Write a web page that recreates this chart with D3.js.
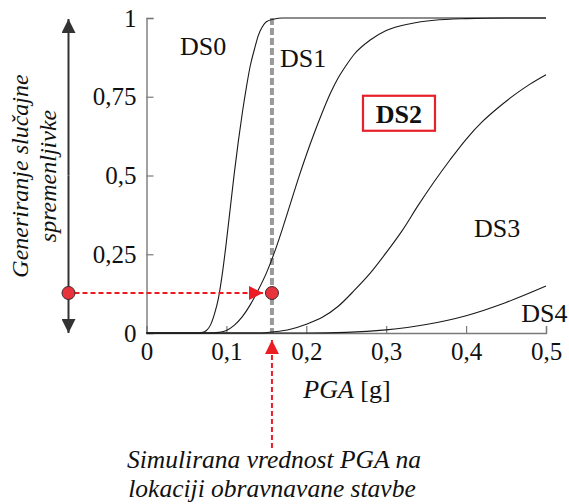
<!DOCTYPE html>
<html>
<head>
<meta charset="utf-8">
<script src="https://cdn.jsdelivr.net/npm/d3@7"></script>
<style>
  body { margin: 0; background: #fff; }
  svg { display: block; font-family: "Liberation Serif", "Times New Roman", serif; }
</style>
</head>
<body>
<div class="container"></div>
<script>
(function(){

    // fragility curves: [PGA, probability]
    var curveDS1 = [[0,0],[0.065,0],[0.07,0.002],[0.075,0.008],[0.08,0.025],[0.085,0.06],
        [0.09,0.11],[0.095,0.19],[0.1,0.29],[0.105,0.40],[0.11,0.51],[0.115,0.61],[0.12,0.70],
        [0.125,0.78],[0.13,0.85],[0.135,0.90],[0.14,0.945],[0.145,0.972],[0.15,0.988],
        [0.16,0.997],[0.17,1],[0.5,1]];
    var curveDS2 = [[0,0],[0.08,0],[0.09,0.002],[0.1,0.008],[0.11,0.025],[0.12,0.052],
        [0.13,0.09],[0.14,0.137],[0.15,0.19],[0.16,0.255],[0.17,0.33],[0.18,0.41],[0.19,0.49],
        [0.2,0.565],[0.21,0.635],[0.22,0.70],[0.23,0.76],[0.24,0.81],[0.25,0.85],[0.26,0.885],
        [0.28,0.93],[0.3,0.96],[0.33,0.982],[0.36,0.993],[0.4,0.998],[0.45,1],[0.5,1]];
    var curveDS3 = [[0,0],[0.14,0],[0.16,0.004],[0.18,0.012],[0.2,0.028],[0.22,0.05],
        [0.24,0.085],[0.26,0.135],[0.28,0.19],[0.3,0.255],[0.32,0.325],[0.34,0.405],
        [0.36,0.48],[0.38,0.55],[0.4,0.615],[0.42,0.67],[0.44,0.715],[0.46,0.755],
        [0.48,0.79],[0.5,0.82]];
    var curveDS4 = [[0,0],[0.2,0],[0.25,0.002],[0.3,0.01],[0.35,0.027],[0.4,0.055],
        [0.45,0.097],[0.5,0.149]];

    var curves = [curveDS1, curveDS2, curveDS3, curveDS4];

    var xTicks = [0, 0.1, 0.2, 0.3, 0.4, 0.5];
    var yTicks = [0, 0.25, 0.5, 0.75, 1];

    // labels of the damage-state regions: [text, PGA, probability]
    var dsLabels = [["DS0", 0.042, 0.882], ["DS1", 0.167, 0.845], ["DS3", 0.41, 0.305], ["DS4", 0.469, 0.035]];
    var dsSelected = ["DS2", 0.316, 0.696];

    var simPGA = 0.157;       // simulated PGA at the building location
    var randomValue = 0.127;  // generated random variable

    var fmt = function(d) { return String(d).replace(".", ","); };

    var svg = d3.select(".container").append("svg")
        .attr("width", 569)
        .attr("height", 504);

    var x = d3.scaleLinear().domain([0, 0.5]).range([146.5, 546]);
    var y = d3.scaleLinear().domain([0, 1]).range([333, 18]);

    var defs = svg.append("defs");
    function marker(id, color) {
      defs.append("marker")
        .attr("id", id)
        .attr("viewBox", "0 0 10 10")
        .attr("refX", 10).attr("refY", 5)
        .attr("markerWidth", 14).attr("markerHeight", 14)
        .attr("markerUnits", "userSpaceOnUse")
        .attr("orient", "auto")
        .append("path")
        .attr("d", "M0,0L10,5L0,10Z")
        .attr("fill", color);
    }
    marker("arrRed", "#ec1c24");
    marker("arrDark", "#333");

    // axes
    var axisColor = "#7a7a7a";
    var xAxis = svg.append("g")
        .attr("transform", "translate(0," + y(0) + ")")
        .call(d3.axisBottom(x).tickValues(xTicks).tickSize(-7).tickPadding(16).tickFormat(fmt));
    var yAxis = svg.append("g")
        .attr("transform", "translate(" + x(0) + ",0)")
        .call(d3.axisLeft(y).tickValues(yTicks).tickSize(-7).tickPadding(10).tickFormat(fmt));

    [xAxis, yAxis].forEach(function(a) {
      a.select(".domain").attr("stroke", axisColor).attr("stroke-width", 1.4);
      a.selectAll(".tick line").attr("stroke", axisColor).attr("stroke-width", 1.2);
      a.selectAll("text")
        .attr("fill", "#111")
        .style("font-family", "Liberation Serif, serif")
        .style("font-size", "25px");
    });
    xAxis.selectAll("text").attr("dy", "0.71em").attr("y", 9);

    // dashed gray line at simulated PGA
    svg.append("line")
        .attr("x1", x(simPGA)).attr("x2", x(simPGA))
        .attr("y1", y(1)).attr("y2", y(0))
        .attr("stroke", "#9a9a9a")
        .attr("stroke-width", 4)
        .attr("stroke-dasharray", "7,3");

    // fragility curves
    var line = d3.line()
        .x(function(d) { return x(d[0]); })
        .y(function(d) { return y(d[1]); })
        .curve(d3.curveMonotoneX);

    svg.selectAll("path.curve")
      .data(curves)
      .enter().append("path")
      .attr("class", "curve")
      .attr("d", line)
      .attr("fill", "none")
      .attr("stroke", "#1a1a1a")
      .attr("stroke-width", 1.1);

    // region labels
    svg.selectAll("text.ds")
      .data(dsLabels)
      .enter().append("text")
      .attr("class", "ds")
      .attr("x", function(d) { return x(d[1]); })
      .attr("y", function(d) { return y(d[2]); })
      .style("font-size", "26px")
      .attr("fill", "#111")
      .text(function(d) { return d[0]; });

    var selG = svg.append("g");
    selG.append("rect")
        .attr("x", x(dsSelected[1]) - 36)
        .attr("y", y(dsSelected[2]) - 18)
        .attr("width", 72)
        .attr("height", 35)
        .attr("fill", "#fff")
        .attr("stroke", "#e8202a")
        .attr("stroke-width", 2.2);
    selG.append("text")
        .attr("x", x(dsSelected[1]))
        .attr("y", y(dsSelected[2]) + 9)
        .attr("text-anchor", "middle")
        .style("font-size", "26px")
        .style("font-weight", "bold")
        .attr("fill", "#111")
        .text(dsSelected[0]);

    // left vertical double arrow (random variable range)
    var axX = 68.5;
    svg.append("line")
        .attr("x1", axX).attr("x2", axX)
        .attr("y1", y(0.5)).attr("y2", y(1) + 1)
        .attr("stroke", "#333").attr("stroke-width", 2)
        .attr("marker-end", "url(#arrDark)");
    svg.append("line")
        .attr("x1", axX).attr("x2", axX)
        .attr("y1", y(0.5)).attr("y2", y(0))
        .attr("stroke", "#333").attr("stroke-width", 2)
        .attr("marker-end", "url(#arrDark)");

    // horizontal red dashed arrow
    svg.append("line")
        .attr("x1", axX + 6).attr("x2", x(simPGA) - 9)
        .attr("y1", y(randomValue)).attr("y2", y(randomValue))
        .attr("stroke", "#ec1c24").attr("stroke-width", 2)
        .attr("stroke-dasharray", "5,3")
        .attr("marker-end", "url(#arrRed)");

    // vertical red dashed arrow from the bottom label
    svg.append("line")
        .attr("x1", x(simPGA)).attr("x2", x(simPGA))
        .attr("y1", 448).attr("y2", y(0) + 7)
        .attr("stroke", "#ec1c24").attr("stroke-width", 2)
        .attr("stroke-dasharray", "5,3")
        .attr("marker-end", "url(#arrRed)");

    // dots
    svg.selectAll("circle.pt")
      .data([[axX, y(randomValue)], [x(simPGA), y(randomValue)]])
      .enter().append("circle")
      .attr("class", "pt")
      .attr("cx", function(d) { return d[0]; })
      .attr("cy", function(d) { return d[1]; })
      .attr("r", 6.5)
      .attr("fill", "#e8323c")
      .attr("stroke", "#3a2a2a")
      .attr("stroke-width", 1);

    // axis titles
    var xt = svg.append("text")
        .attr("x", 347).attr("y", 398)
        .attr("text-anchor", "middle")
        .style("font-size", "26px")
        .attr("fill", "#111");
    xt.append("tspan").style("font-style", "italic").text("PGA");
    xt.append("tspan").text(" [g]");

    var yt = svg.append("text")
        .attr("transform", "translate(0,176) rotate(-90)")
        .attr("text-anchor", "middle")
        .style("font-size", "24px")
        .style("font-style", "italic")
        .attr("fill", "#111");
    yt.append("tspan").attr("x", 0).attr("y", 28).text("Generiranje slučajne");
    yt.append("tspan").attr("x", 0).attr("y", 56).text("spremenljivke");

    var bt = svg.append("text")
        .attr("text-anchor", "middle")
        .style("font-size", "25.5px")
        .style("font-style", "italic")
        .attr("fill", "#111");
    bt.append("tspan").attr("x", 274).attr("y", 468).text("Simulirana vrednost PGA na");
    bt.append("tspan").attr("x", 272).attr("y", 497).text("lokaciji obravnavane stavbe");

})();
</script>
</body>
</html>
